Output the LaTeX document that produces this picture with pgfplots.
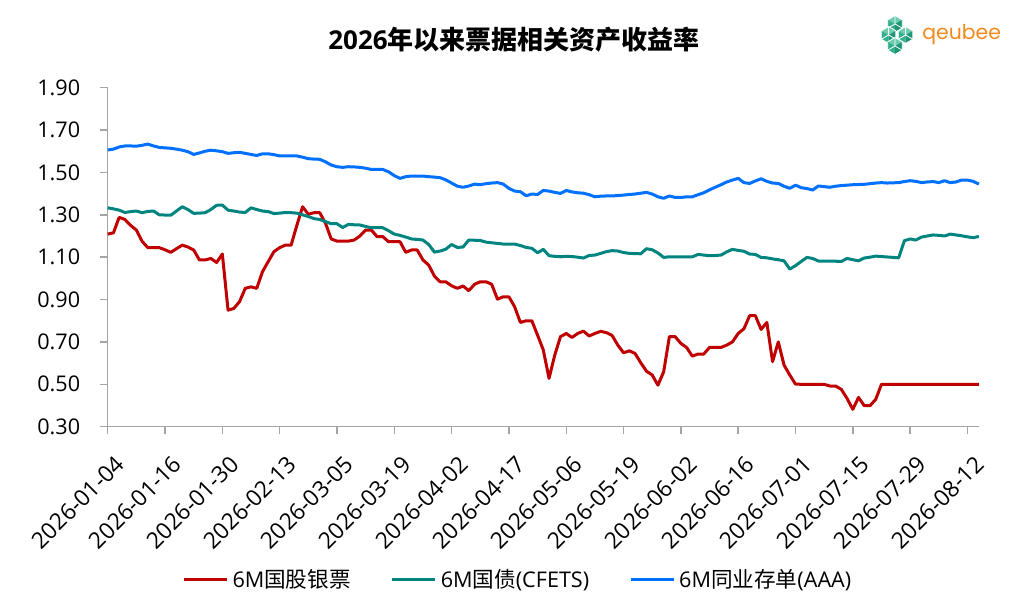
\documentclass[border=0pt]{standalone}
\usepackage{pgfplots}
\usepackage{pgfplotstable}
\pgfplotsset{compat=1.18}
\usepackage{fontspec}
\setmainfont{Open Sans}
\newfontfamily\cjk{Noto Sans CJK SC}
\newfontfamily\logofont{Poppins}
\definecolor{cred}{RGB}{192,0,0}
\definecolor{cteal}{RGB}{0,132,128}
\definecolor{cblue}{RGB}{0,112,255}
\definecolor{axgray}{RGB}{165,165,165}
\definecolor{lgA}{RGB}{110,205,175}
\definecolor{lgB}{RGB}{50,175,140}
\definecolor{lgC}{RGB}{30,150,118}
\definecolor{logoorange}{RGB}{240,138,30}
\pgfplotstableread{
i r t b
0 1.209 1.333 1.606
1 1.215 1.328 1.610
2 1.288 1.322 1.620
3 1.278 1.311 1.625
4 1.250 1.315 1.625
5 1.228 1.318 1.624
6 1.175 1.310 1.628
7 1.145 1.316 1.634
8 1.145 1.318 1.625
9 1.145 1.300 1.618
10 1.135 1.299 1.616
11 1.123 1.298 1.614
12 1.140 1.318 1.610
13 1.157 1.338 1.605
14 1.148 1.325 1.598
15 1.134 1.307 1.585
16 1.087 1.308 1.592
17 1.087 1.310 1.600
18 1.094 1.325 1.605
19 1.075 1.345 1.602
20 1.115 1.346 1.598
21 0.850 1.322 1.590
22 0.858 1.318 1.593
23 0.890 1.313 1.595
24 0.953 1.311 1.590
25 0.960 1.333 1.585
26 0.953 1.325 1.580
27 1.031 1.318 1.588
28 1.079 1.315 1.588
29 1.126 1.306 1.584
30 1.145 1.308 1.578
31 1.157 1.311 1.578
32 1.157 1.310 1.578
33 1.250 1.308 1.578
34 1.338 1.300 1.572
35 1.303 1.292 1.565
36 1.310 1.282 1.563
37 1.310 1.278 1.562
38 1.260 1.268 1.550
39 1.186 1.258 1.535
40 1.176 1.258 1.527
41 1.176 1.240 1.524
42 1.176 1.255 1.527
43 1.181 1.253 1.526
44 1.200 1.252 1.524
45 1.228 1.245 1.520
46 1.228 1.239 1.514
47 1.197 1.239 1.514
48 1.197 1.239 1.514
49 1.173 1.225 1.503
50 1.173 1.209 1.485
51 1.173 1.203 1.472
52 1.123 1.195 1.480
53 1.134 1.186 1.483
54 1.134 1.184 1.483
55 1.087 1.181 1.483
56 1.063 1.160 1.480
57 1.011 1.124 1.478
58 0.984 1.129 1.475
59 0.984 1.138 1.465
60 0.965 1.160 1.450
61 0.953 1.146 1.435
62 0.964 1.148 1.430
63 0.942 1.181 1.436
64 0.972 1.180 1.445
65 0.984 1.179 1.442
66 0.984 1.171 1.447
67 0.972 1.168 1.450
68 0.902 1.165 1.452
69 0.913 1.162 1.445
70 0.913 1.162 1.425
71 0.866 1.162 1.412
72 0.792 1.155 1.409
73 0.800 1.146 1.390
74 0.800 1.142 1.398
75 0.732 1.121 1.396
76 0.662 1.137 1.415
77 0.528 1.107 1.412
78 0.638 1.104 1.406
79 0.725 1.102 1.401
80 0.740 1.104 1.415
81 0.721 1.103 1.408
82 0.740 1.100 1.404
83 0.751 1.096 1.402
84 0.728 1.108 1.395
85 0.740 1.110 1.385
86 0.750 1.118 1.388
87 0.744 1.126 1.389
88 0.731 1.131 1.389
89 0.685 1.129 1.391
90 0.649 1.122 1.393
91 0.658 1.118 1.396
92 0.646 1.117 1.398
93 0.602 1.116 1.402
94 0.562 1.140 1.406
95 0.544 1.135 1.398
96 0.496 1.120 1.385
97 0.559 1.099 1.378
98 0.725 1.102 1.389
99 0.725 1.102 1.382
100 0.693 1.101 1.382
101 0.674 1.101 1.385
102 0.633 1.102 1.385
103 0.643 1.113 1.395
104 0.643 1.110 1.404
105 0.674 1.107 1.418
106 0.674 1.108 1.430
107 0.674 1.110 1.442
108 0.685 1.125 1.455
109 0.700 1.137 1.464
110 0.740 1.132 1.472
111 0.762 1.128 1.452
112 0.824 1.115 1.448
113 0.824 1.113 1.460
114 0.759 1.099 1.470
115 0.792 1.097 1.458
116 0.607 1.092 1.450
117 0.700 1.088 1.448
118 0.591 1.083 1.435
119 0.544 1.044 1.425
120 0.501 1.060 1.440
121 0.500 1.080 1.428
122 0.500 1.099 1.424
123 0.500 1.094 1.417
124 0.500 1.082 1.436
125 0.500 1.082 1.433
126 0.492 1.082 1.430
127 0.492 1.081 1.435
128 0.476 1.080 1.438
129 0.433 1.094 1.440
130 0.382 1.088 1.442
131 0.438 1.083 1.443
132 0.399 1.096 1.444
133 0.399 1.100 1.447
134 0.429 1.105 1.450
135 0.500 1.103 1.452
136 0.500 1.101 1.450
137 0.500 1.099 1.451
138 0.500 1.097 1.452
139 0.500 1.178 1.457
140 0.500 1.186 1.461
141 0.500 1.181 1.458
142 0.500 1.195 1.452
143 0.500 1.200 1.455
144 0.500 1.205 1.457
145 0.500 1.203 1.452
146 0.500 1.200 1.461
147 0.500 1.209 1.452
148 0.500 1.205 1.455
149 0.500 1.201 1.464
150 0.500 1.196 1.464
151 0.500 1.192 1.458
152 0.500 1.198 1.445
}\datatable
\newcommand{\cube}[2]{%
  \begin{scope}[shift={(#1pt,#2pt)}]
    \fill[lgA] (0,0) -- (30:4.2pt) -- (90:4.2pt) -- (150:4.2pt) -- cycle;
    \fill[lgB] (0,0) -- (150:4.2pt) -- (210:4.2pt) -- (270:4.2pt) -- cycle;
    \fill[lgC] (0,0) -- (270:4.2pt) -- (330:4.2pt) -- (30:4.2pt) -- cycle;
    \draw[white, line width=0.4pt, line join=round] (30:4.2pt) -- (90:4.2pt) -- (150:4.2pt) -- (210:4.2pt) -- (270:4.2pt) -- (330:4.2pt) -- cycle;
    \draw[white, line width=0.4pt] (0,0) -- (90:4.2pt) (0,0) -- (210:4.2pt) (0,0) -- (330:4.2pt);
  \end{scope}}
\begin{document}
\begin{tikzpicture}
\useasboundingbox (0,0) rectangle (512pt,307pt);
\begin{axis}[
  at={(53.85pt,93.65pt)}, anchor=south west,
  scale only axis, width=435.6pt, height=169.5pt,
  xmin=0, xmax=152, ymin=0.3, ymax=1.9,
  ytick={0.3,0.5,0.7,0.9,1.1,1.3,1.5,1.7,1.9},
  yticklabel={\pgfmathprintnumber[fixed,fixed zerofill,precision=2,assume math mode=true]{\tick}},
  xtick={0,10,20,30,40,50,60,70,80,90,100,110,120,130,140,150},
  xticklabels={2026-01-04,2026-01-16,2026-01-30,2026-02-13,2026-03-05,2026-03-19,2026-04-02,2026-04-17,2026-05-06,2026-05-19,2026-06-02,2026-06-16,2026-07-01,2026-07-15,2026-07-29,2026-08-12},
  axis x line*=bottom, axis y line*=left,
  x axis line style={-}, y axis line style={-},
  axis line style={axgray, line width=0.7pt},
  tick style={axgray, line width=0.7pt},
  tick align=outside, major tick length=3.75pt,
  ticklabel style={font=\fontsize{10.8}{13}\selectfont, text=black},
  y tick label style={xshift=-6.5pt},
  x tick label style={rotate=45, anchor=north east, inner sep=0pt, xshift=-4.8pt, yshift=-9.2pt, font=\fontsize{11.4}{13}\selectfont},
  legend style={at={(0.472,-0.452)}, anchor=center, draw=none, fill=none,
    legend columns=3, font=\fontsize{10.8}{13}\selectfont,
    /tikz/every even column/.append style={column sep=18pt}},
  legend image code/.code={\draw[#1] (0pt,0pt) -- (21.5pt,0pt);},
  clip=false,
]
\addplot[cred, line width=1.5pt, line join=round] table[x=i, y=r] {\datatable};
\addlegendentry{6M{\cjk 国股银票}}
\addplot[cteal, line width=1.5pt, line join=round] table[x=i, y=t] {\datatable};
\addlegendentry{6M{\cjk 国债}(CFETS)}
\addplot[cblue, line width=1.5pt, line join=round] table[x=i, y=b] {\datatable};
\addlegendentry{6M{\cjk 同业存单}(AAA)}
\end{axis}
\node[font=\bfseries\fontsize{13}{15}\selectfont] at (257pt,287pt) {2026{\cjk 年以来票据相关资产收益率}};
\cube{447.5}{295}
\cube{452.8}{289.5}
\cube{444.3}{289.5}
\cube{447.5}{284}
\node[font=\logofont\fontsize{10.2}{12}\selectfont, text=logoorange, anchor=west, inner sep=0pt] at (461pt,289.5pt) {qeubee};
\end{tikzpicture}
\end{document}
